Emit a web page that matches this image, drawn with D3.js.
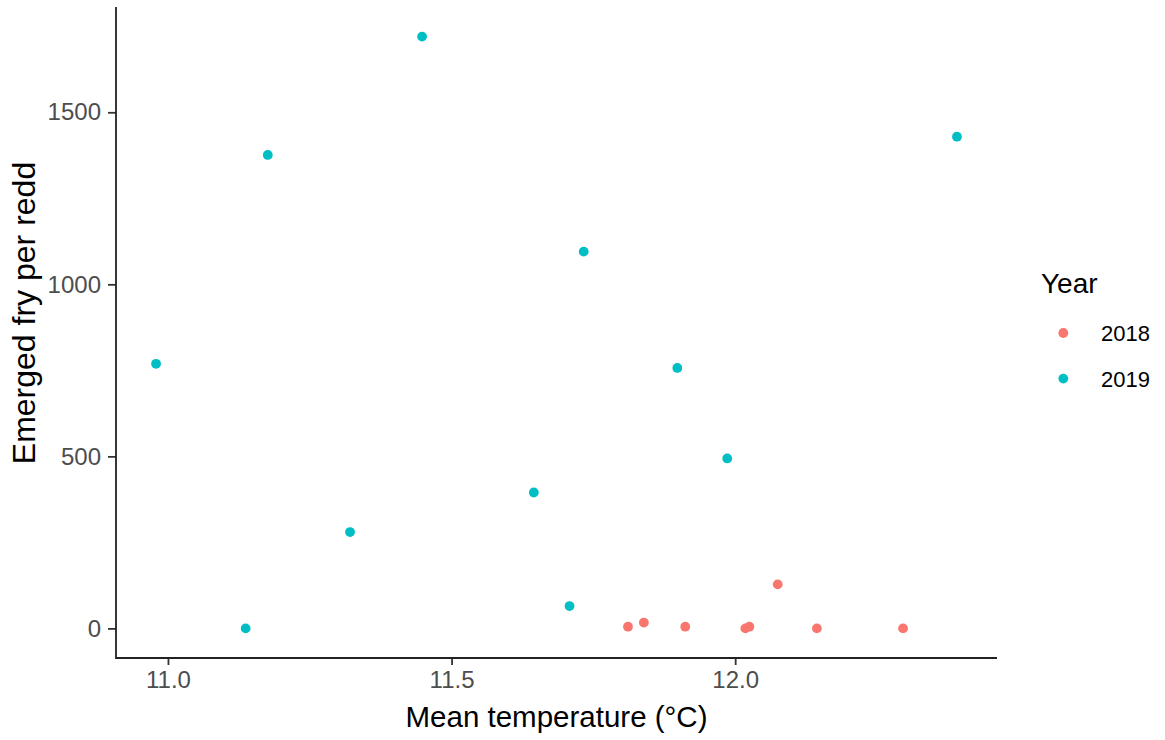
<!DOCTYPE html>
<html>
<head>
<meta charset="utf-8">
<script src="https://cdn.jsdelivr.net/npm/d3@7"></script>
<style>
  html, body { margin: 0; padding: 0; background: #ffffff; }
  svg { display: block; font-family: "Liberation Sans", Arial, sans-serif; }
</style>
</head>
<body>
<svg id="chart" width="1165" height="740"></svg>
<script>
// Mean incubation temperature (°C) and emerged fry per redd, by year
const temp2018 = [11.811, 11.839, 11.912, 12.018, 12.025, 12.075, 12.144, 12.296];
const fry2018  = [5, 17, 5, 0, 5, 128, 0, 0];

const temp2019 = [10.979, 11.137, 11.176, 11.321, 11.448, 11.645, 11.708, 11.733, 11.898, 11.986, 12.391];
const fry2019  = [769, 0, 1376, 280, 1720, 395, 65, 1095, 757, 494, 1429];

const years = ["2018", "2019"];
const yearColors = ["#F8766D", "#00BFC4"];

const xTicks = [11.0, 11.5, 12.0];
const yTicks = [0, 500, 1000, 1500];

const points = [
  ...temp2018.map((t, i) => ({ year: "2018", temp: t, fry: fry2018[i] })),
  ...temp2019.map((t, i) => ({ year: "2019", temp: t, fry: fry2019[i] }))
];

const panel = { left: 116, right: 997, top: 7, bottom: 658 };

// 5% padding on each side of the data range
function padded(extent) {
  const pad = (extent[1] - extent[0]) * 0.05;
  return [extent[0] - pad, extent[1] + pad];
}

const x = d3.scaleLinear()
  .domain(padded(d3.extent(points, d => d.temp)))
  .range([panel.left, panel.right]);
const y = d3.scaleLinear()
  .domain(padded(d3.extent(points, d => d.fry)))
  .range([panel.bottom, panel.top]);
const color = d3.scaleOrdinal().domain(years).range(yearColors);

const svg = d3.select("#chart");

// Axes (ticks and labels from d3, axis lines drawn along the panel edges)
const xAxis = svg.append("g")
  .attr("transform", `translate(0,${panel.bottom})`)
  .call(d3.axisBottom(x).tickValues(xTicks).tickFormat(d3.format(".1f")).tickSizeOuter(0).tickSize(7).tickPadding(6));
const yAxis = svg.append("g")
  .attr("transform", `translate(${panel.left},0)`)
  .call(d3.axisLeft(y).tickValues(yTicks).tickFormat(d3.format("d")).tickSizeOuter(0).tickSize(8).tickPadding(7));

[xAxis, yAxis].forEach(g => {
  g.select(".domain").remove();
  g.selectAll(".tick line").attr("stroke", "#333").attr("stroke-width", 1.8);
  g.selectAll(".tick text")
    .attr("fill", "#4D4D4D")
    .style("font-size", "24px")
    .style("font-family", "'Liberation Sans', Arial, sans-serif");
});
xAxis.selectAll(".tick text").attr("dy", "0.71em");

svg.append("path")
  .attr("d", `M${panel.left},${panel.top}V${panel.bottom}H${panel.right}`)
  .attr("fill", "none")
  .attr("stroke", "#222")
  .attr("stroke-width", 1.8);

// Axis titles
svg.append("text")
  .attr("x", (panel.left + panel.right) / 2)
  .attr("y", 727)
  .attr("text-anchor", "middle")
  .style("font-size", "29.5px")
  .attr("fill", "#000")
  .text("Mean temperature (°C)");

svg.append("text")
  .attr("transform", "translate(35,313) rotate(-90)")
  .attr("text-anchor", "middle")
  .style("font-size", "32px")
  .attr("fill", "#000")
  .text("Emerged fry per redd");

// Points
svg.append("g")
  .selectAll("circle")
  .data(points)
  .join("circle")
  .attr("cx", d => x(d.temp))
  .attr("cy", d => y(d.fry))
  .attr("r", 4.9)
  .attr("fill", d => color(d.year));

// Legend
const legend = svg.append("g");
legend.append("text")
  .attr("x", 1041)
  .attr("y", 293)
  .style("font-size", "28px")
  .attr("fill", "#000")
  .text("Year");

const item = legend.selectAll("g.item")
  .data(years)
  .join("g")
  .attr("class", "item")
  .attr("transform", (d, i) => `translate(0,${333 + i * 45.6})`);
item.append("circle")
  .attr("cx", 1063.3)
  .attr("cy", 0)
  .attr("r", 4.9)
  .attr("fill", d => color(d));
item.append("text")
  .attr("x", 1101)
  .attr("y", 8)
  .style("font-size", "22px")
  .attr("fill", "#000")
  .text(d => d);
</script>
</body>
</html>
